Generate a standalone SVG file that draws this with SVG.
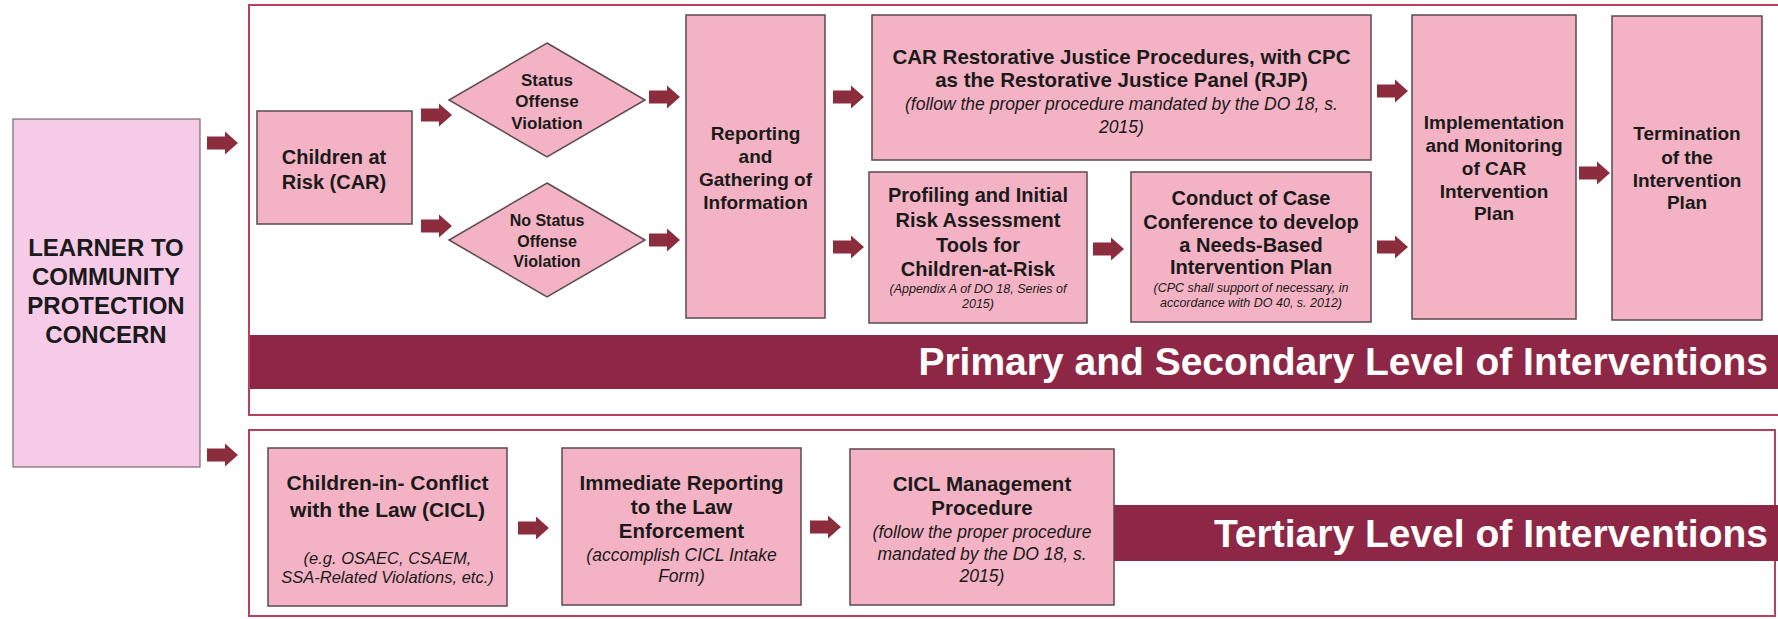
<svg xmlns="http://www.w3.org/2000/svg" xmlns:xlink="http://www.w3.org/1999/xlink" width="1778" height="619" viewBox="0 0 1778 619">
<style>
.box{fill:#F4B3C4;stroke:#5a4a50;stroke-width:1.5}
.learner{fill:#F6CBE8;stroke:#7a6a72;stroke-width:1.2}
.cont{fill:#ffffff;stroke:#B8405F;stroke-width:2}
.band{fill:#8E2646}
.arr{fill:#8B2D3C}
text{font-family:"Liberation Sans",Arial,sans-serif;fill:#1a1a1a;text-anchor:middle}
.b{font-weight:bold}
.i{font-style:italic}
.bt{font-weight:bold;fill:#ffffff;font-size:39px;text-anchor:end}
</style>
<defs>
<path id="arrow" d="M0,-6.5 H18 V-11.5 L31,0 L18,11.5 V6.5 H0 Z"/>
</defs>
<rect width="1778" height="619" fill="#ffffff"/>

<g id="primary-container">
<rect class="cont" x="249" y="5" width="1535" height="410"/>
<rect class="band" x="250" y="335" width="1528" height="54"/>
<text class="bt" x="1768" y="375">Primary and Secondary Level of Interventions</text>
</g>

<g id="tertiary-container">
<rect class="cont" x="249" y="430" width="1526" height="186"/>
<rect class="band" x="1114" y="505" width="1661" height="56"/>
<text class="bt" x="1768" y="547">Tertiary Level of Interventions</text>
</g>

<g id="learner">
<rect class="learner" x="13" y="119" width="187" height="348"/>
<text class="b" font-size="24" x="106" y="256">LEARNER TO</text>
<text class="b" font-size="24" x="106" y="285">COMMUNITY</text>
<text class="b" font-size="24" x="106" y="314">PROTECTION</text>
<text class="b" font-size="24" x="106" y="343">CONCERN</text>
</g>

<g id="car">
<rect class="box" x="257" y="111" width="155" height="113"/>
<text class="b" font-size="20" x="334" y="164">Children at</text>
<text class="b" font-size="20" x="334" y="189">Risk (CAR)</text>
</g>

<g id="status">
<polygon class="box" points="547,43 645,100 547,157 449,100"/>
<text class="b" font-size="17" x="547" y="86">Status</text>
<text class="b" font-size="17" x="547" y="107">Offense</text>
<text class="b" font-size="17" x="547" y="129">Violation</text>
</g>

<g id="nostatus">
<polygon class="box" points="547,183 645,240 547,297 449,240"/>
<text class="b" font-size="16" x="547" y="226">No Status</text>
<text class="b" font-size="16" x="547" y="247">Offense</text>
<text class="b" font-size="16" x="547" y="267">Violation</text>
</g>

<g id="reporting">
<rect class="box" x="686" y="15" width="139" height="303"/>
<text class="b" font-size="19" x="755.5" y="140">Reporting</text>
<text class="b" font-size="19" x="755.5" y="163">and</text>
<text class="b" font-size="19" x="755.5" y="186">Gathering of</text>
<text class="b" font-size="19" x="755.5" y="209">Information</text>
</g>

<g id="rjp">
<rect class="box" x="872" y="15" width="499" height="145"/>
<text class="b" font-size="20.5" x="1121.5" y="64">CAR Restorative Justice Procedures, with CPC</text>
<text class="b" font-size="20.5" x="1121.5" y="87">as the Restorative Justice Panel (RJP)</text>
<text class="i" font-size="17.5" x="1121.5" y="110">(follow the proper procedure mandated by the DO 18, s.</text>
<text class="i" font-size="17.5" x="1121.5" y="133">2015)</text>
</g>

<g id="profiling">
<rect class="box" x="869" y="172" width="218" height="151"/>
<text class="b" font-size="20" x="978" y="202">Profiling and Initial</text>
<text class="b" font-size="20" x="978" y="227">Risk Assessment</text>
<text class="b" font-size="20" x="978" y="252">Tools for</text>
<text class="b" font-size="20" x="978" y="276">Children-at-Risk</text>
<text class="i" font-size="12.5" x="978" y="293">(Appendix A of DO 18, Series of</text>
<text class="i" font-size="12.5" x="978" y="308">2015)</text>
</g>

<g id="conduct">
<rect class="box" x="1131" y="172" width="240" height="150"/>
<text class="b" font-size="20" x="1251" y="205">Conduct of Case</text>
<text class="b" font-size="20" x="1251" y="229">Conference to develop</text>
<text class="b" font-size="20" x="1251" y="252">a Needs-Based</text>
<text class="b" font-size="20" x="1251" y="274">Intervention Plan</text>
<text class="i" font-size="12.5" x="1251" y="292">(CPC shall support of necessary, in</text>
<text class="i" font-size="12.5" x="1251" y="307">accordance with DO 40, s. 2012)</text>
</g>

<g id="implementation">
<rect class="box" x="1412" y="15" width="164" height="304"/>
<text class="b" font-size="19" x="1494" y="129">Implementation</text>
<text class="b" font-size="19" x="1494" y="152">and Monitoring</text>
<text class="b" font-size="19" x="1494" y="175">of CAR</text>
<text class="b" font-size="19" x="1494" y="198">Intervention</text>
<text class="b" font-size="19" x="1494" y="220">Plan</text>
</g>

<g id="termination">
<rect class="box" x="1612" y="16" width="150" height="304"/>
<text class="b" font-size="19" x="1687" y="140">Termination</text>
<text class="b" font-size="19" x="1687" y="164">of the</text>
<text class="b" font-size="19" x="1687" y="187">Intervention</text>
<text class="b" font-size="19" x="1687" y="209">Plan</text>
</g>

<g id="cicl">
<rect class="box" x="268" y="448" width="239" height="158"/>
<text class="b" font-size="21" x="387.5" y="490">Children-in- Conflict</text>
<text class="b" font-size="21" x="387.5" y="517">with the Law (CICL)</text>
<text class="i" font-size="16.5" x="387.5" y="564">(e.g. OSAEC, CSAEM,</text>
<text class="i" font-size="16.5" x="387.5" y="583">SSA-Related Violations, etc.)</text>
</g>

<g id="immediate">
<rect class="box" x="562" y="448" width="239" height="157"/>
<text class="b" font-size="20.5" x="681.5" y="490">Immediate Reporting</text>
<text class="b" font-size="20.5" x="681.5" y="514">to the Law</text>
<text class="b" font-size="20.5" x="681.5" y="538">Enforcement</text>
<text class="i" font-size="17.5" x="681.5" y="561">(accomplish CICL Intake</text>
<text class="i" font-size="17.5" x="681.5" y="582">Form)</text>
</g>

<g id="management">
<rect class="box" x="850" y="449" width="264" height="156"/>
<text class="b" font-size="20.5" x="982" y="491">CICL Management</text>
<text class="b" font-size="20.5" x="982" y="515">Procedure</text>
<text class="i" font-size="17.5" x="982" y="538">(follow the proper procedure</text>
<text class="i" font-size="17.5" x="982" y="560">mandated by the DO 18, s.</text>
<text class="i" font-size="17.5" x="982" y="582">2015)</text>
</g>

<g id="connectors" class="arr">
<use xlink:href="#arrow" x="207" y="143"/>
<use xlink:href="#arrow" x="207" y="455"/>
<use xlink:href="#arrow" x="421" y="115"/>
<use xlink:href="#arrow" x="421" y="226"/>
<use xlink:href="#arrow" x="649" y="97"/>
<use xlink:href="#arrow" x="649" y="240"/>
<use xlink:href="#arrow" x="833" y="97"/>
<use xlink:href="#arrow" x="833" y="247"/>
<use xlink:href="#arrow" x="1093" y="249"/>
<use xlink:href="#arrow" x="1377" y="91"/>
<use xlink:href="#arrow" x="1377" y="247"/>
<use xlink:href="#arrow" x="1579" y="173"/>
<use xlink:href="#arrow" x="518" y="528"/>
<use xlink:href="#arrow" x="810" y="527"/>
</g>
</svg>
